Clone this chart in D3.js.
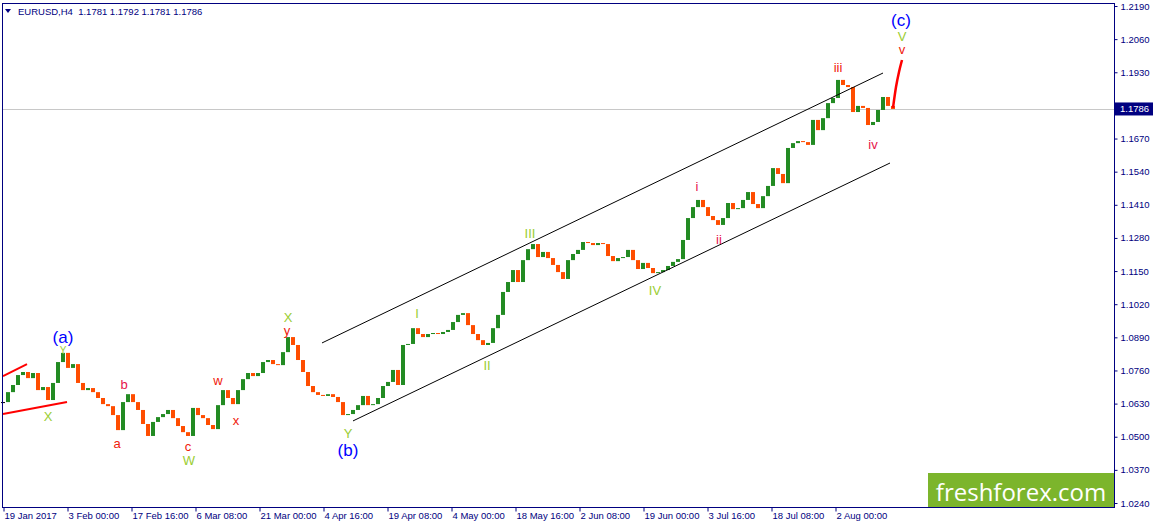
<!DOCTYPE html>
<html>
<head>
<meta charset="utf-8">
<script src="https://cdn.jsdelivr.net/npm/d3@7"></script>
<style>
  body { margin: 0; background: #fff; }
  svg { display: block; }
</style>
</head>
<body>
<div id="chart"></div>
<script>
const W = 1155, H = 527;
const plot = {left: 2, top: 3, right: 1114, bottom: 507};

// price axis ticks
const priceTicks = [1.2190, 1.2060, 1.1930, 1.1800, 1.1670, 1.1540, 1.1410, 1.1280,
                    1.1150, 1.1020, 1.0890, 1.0760, 1.0630, 1.0500, 1.0370, 1.0240];

// time axis: one label every 64 H4 bars
const timeLabels = ["19 Jan 2017", "3 Feb 00:00", "17 Feb 16:00", "6 Mar 08:00", "21 Mar 00:00",
                    "4 Apr 16:00", "19 Apr 08:00", "4 May 00:00", "18 May 16:00", "2 Jun 08:00",
                    "19 Jun 00:00", "3 Jul 16:00", "18 Jul 08:00", "2 Aug 00:00"];
const timeStep = 64;

// closes, one every 5 H4 bars
const barStep = 5;
const closes = [
  1.0636, 1.0675, 1.0703, 1.0742, 1.0754, 1.0730, 1.0750, 1.0683, 1.0695, 1.0644,
  1.0711, 1.0793, 1.0829, 1.0770, 1.0785, 1.0711, 1.0683, 1.0691, 1.0675, 1.0652,
  1.0628, 1.0620, 1.0585, 1.0526, 1.0636, 1.0667, 1.0636, 1.0605, 1.0550, 1.0503,
  1.0558, 1.0577, 1.0589, 1.0605, 1.0573, 1.0542, 1.0518, 1.0503, 1.0613, 1.0585,
  1.0573, 1.0546, 1.0530, 1.0624, 1.0683, 1.0652, 1.0628, 1.0683, 1.0726, 1.0750,
  1.0738, 1.0750, 1.0793, 1.0801, 1.0785, 1.0781, 1.0832, 1.0891, 1.0860, 1.0801,
  1.0754, 1.0699, 1.0675, 1.0664, 1.0660, 1.0667, 1.0656, 1.0636, 1.0585, 1.0589,
  1.0605, 1.0624, 1.0660, 1.0624, 1.0628, 1.0652, 1.0699, 1.0715, 1.0762, 1.0703,
  1.0860, 1.0864, 1.0926, 1.0903, 1.0891, 1.0903, 1.0907, 1.0903, 1.0911, 1.0919,
  1.0950, 1.0978, 1.0985, 1.0938, 1.0903, 1.0879, 1.0860, 1.0868, 1.0926, 1.0978,
  1.1068, 1.1107, 1.1154, 1.1107, 1.1193, 1.1236, 1.1256, 1.1205, 1.1225, 1.1201,
  1.1174, 1.1146, 1.1119, 1.1193, 1.1217, 1.1233, 1.1264, 1.1260, 1.1252, 1.1260,
  1.1256, 1.1209, 1.1189, 1.1201, 1.1205, 1.1233, 1.1193, 1.1158, 1.1182, 1.1162,
  1.1142, 1.1146, 1.1154, 1.1170, 1.1186, 1.1197, 1.1272, 1.1358, 1.1401, 1.1429,
  1.1401, 1.1366, 1.1350, 1.1331, 1.1358, 1.1417, 1.1393, 1.1397, 1.1429, 1.1460,
  1.1413, 1.1397, 1.1444, 1.1484, 1.1554, 1.1531, 1.1495, 1.1633, 1.1652, 1.1660,
  1.1656, 1.1645, 1.1743, 1.1703, 1.1750, 1.1809, 1.1829, 1.1900, 1.1880, 1.1872,
  1.1774, 1.1798, 1.1790, 1.1723, 1.1735, 1.1782, 1.1833, 1.1798, 1.1786
];
const lastPrice = 1.1786;

// drawn objects: [bar, price] pairs
const channelUpper = [[319, 1.0868], [880, 1.1927]];
const channelLower = [[350, 1.0562], [887, 1.1574]];
const triangleUpper = [[0, 1.0738], [24, 1.0785]];
const triangleLower = [[0, 1.0589], [64, 1.0636]];
const forecast = [[890, 1.1790], [893, 1.1872], [896, 1.1931], [899, 1.1978]];

// wave labels: text, bar, price, kind
const waveLabels = [
  ["(a)", 60, 1.0890, "blue"], ["Y", 60, 1.0838, "green"], ["X", 45, 1.0581, "green"],
  ["a", 114, 1.0475, "red"], ["b", 121, 1.0703, "pink"], ["c", 185, 1.0460, "red"],
  ["W", 186, 1.0405, "green"], ["w", 215, 1.0722, "red"], ["x", 233, 1.0565, "red"],
  ["X", 285, 1.0966, "green"], ["y", 284, 1.0915, "red"], ["Y", 345, 1.0512, "green"],
  ["(b)", 345, 1.0446, "blue"], ["I", 414, 1.0985, "green"], ["II", 484, 1.0781, "green"],
  ["III", 527, 1.1299, "green"], ["IV", 652, 1.1072, "green"], ["i", 694, 1.1480, "pink"],
  ["ii", 716, 1.1272, "pink"], ["iii", 835, 1.1947, "red"], ["iv", 870, 1.1645, "pink"],
  ["v", 899, 1.2021, "red"], ["V", 899, 1.2072, "green"], ["(c)", 898, 1.2135, "blue"]
];
const labelColor = {blue: "#0000ff", green: "#9acd32", red: "#f0200c", pink: "#e6144a"};

const svg = d3.select("#chart").append("svg")
    .attr("width", W)
    .attr("height", H);

const x = d3.scaleLinear().domain([0, 1111]).range([3, 1114]);
const y = d3.scaleLinear().domain([1.0240, 1.2190]).range([503, 6]);

const font = "Liberation Sans, Arial, sans-serif";
const navy = "#000080";

// current price line
svg.append("line")
    .attr("x1", plot.left).attr("x2", plot.right)
    .attr("y1", Math.round(y(lastPrice)) + 0.5).attr("y2", Math.round(y(lastPrice)) + 0.5)
    .attr("stroke", "#c8c8c8");

// candles (open = previous close)
const bars = closes.map((c, i) => ({i: i * barStep, o: i ? closes[i - 1] : c, c: c}));
svg.append("g").selectAll("rect")
    .data(bars)
    .join("rect")
    .attr("x", d => x(d.i) - 2)
    .attr("width", 4)
    .attr("y", d => Math.min(y(d.o), y(d.c)))
    .attr("height", d => Math.max(1, Math.abs(y(d.o) - y(d.c))))
    .attr("fill", d => d.c > d.o ? "#238b23" : (d.c < d.o ? "#ff4d00" : "#000"));

const line = d3.line().x(d => x(d[0])).y(d => y(d[1]));

svg.append("path").attr("d", line(channelUpper)).attr("stroke", "#000").attr("fill", "none");
svg.append("path").attr("d", line(channelLower)).attr("stroke", "#000").attr("fill", "none");
svg.append("path").attr("d", line(triangleUpper)).attr("stroke", "#ff0000").attr("stroke-width", 2).attr("fill", "none");
svg.append("path").attr("d", line(triangleLower)).attr("stroke", "#ff0000").attr("stroke-width", 2).attr("fill", "none");
svg.append("path").attr("d", d3.line().curve(d3.curveMonotoneX).x(d => x(d[0])).y(d => y(d[1]))(forecast))
    .attr("stroke", "#ff0000").attr("stroke-width", 2.5).attr("fill", "none");

// wave labels
svg.append("g").selectAll("text")
    .data(waveLabels)
    .join("text")
    .attr("x", d => x(d[1]))
    .attr("y", d => y(d[2]))
    .attr("text-anchor", "middle")
    .attr("dominant-baseline", "central")
    .attr("font-family", font)
    .attr("font-size", d => d[3] === "blue" ? 17 : (d[0] === "Y" && d[1] === 60 ? 10 : 13))
    .attr("fill", d => labelColor[d[3]])
    .text(d => d[0]);

// watermark
svg.append("rect")
    .attr("x", 928).attr("y", 473).attr("width", plot.right - 928).attr("height", plot.bottom - 473)
    .attr("fill", "#7cb52c");
svg.append("text")
    .attr("x", 1021).attr("y", 491)
    .attr("text-anchor", "middle").attr("dominant-baseline", "central")
    .attr("font-family", "Open Sans, sans-serif").attr("font-size", 24)
    .attr("fill", "#fff")
    .text("freshforex.com");

// frame
svg.append("rect")
    .attr("x", plot.left + 0.5).attr("y", plot.top + 0.5)
    .attr("width", plot.right - plot.left).attr("height", plot.bottom - plot.top)
    .attr("fill", "none").attr("stroke", navy);

// price axis (1.1800 sits under the last price box, as in MT4)
const yAxis = svg.append("g").attr("transform", `translate(${plot.right + 0.5},0)`)
    .call(d3.axisRight(y).tickValues(priceTicks).tickSize(3).tickPadding(3).tickFormat(d3.format(".4f")));
yAxis.select(".domain").remove();
yAxis.selectAll("line").attr("stroke", navy);
yAxis.selectAll("text").attr("fill", navy).attr("font-family", font).attr("font-size", 9.5);

// last price box
svg.append("rect")
    .attr("x", plot.right + 1).attr("y", y(lastPrice) - 6.5).attr("width", 38).attr("height", 13)
    .attr("fill", navy);
svg.append("text")
    .attr("x", plot.right + 6).attr("y", y(lastPrice))
    .attr("dominant-baseline", "central")
    .attr("font-family", font).attr("font-size", 9.5).attr("fill", "#fff")
    .text(d3.format(".4f")(lastPrice));

// time axis
const xAxis = svg.append("g").attr("transform", `translate(0,${plot.bottom + 0.5})`)
    .call(d3.axisBottom(x).tickValues(timeLabels.map((t, i) => i * timeStep))
        .tickSize(4).tickFormat((d, i) => timeLabels[i]));
xAxis.select(".domain").remove();
xAxis.selectAll("line").attr("stroke", navy).attr("transform", "translate(0.5,0)");
xAxis.selectAll("text")
    .attr("fill", navy).attr("font-family", font).attr("font-size", 9.5)
    .attr("text-anchor", "start").attr("x", 1).attr("dy", "0.5em");

// header
svg.append("path").attr("d", "M5,9 L11,9 L8,13 Z").attr("fill", navy);
svg.append("text")
    .attr("x", 18).attr("y", 15)
    .attr("font-family", font).attr("font-size", 9.5).attr("fill", navy)
    .text("EURUSD,H4  1.1781 1.1792 1.1781 1.1786")
    .style("white-space", "pre");
</script>
</body>
</html>
